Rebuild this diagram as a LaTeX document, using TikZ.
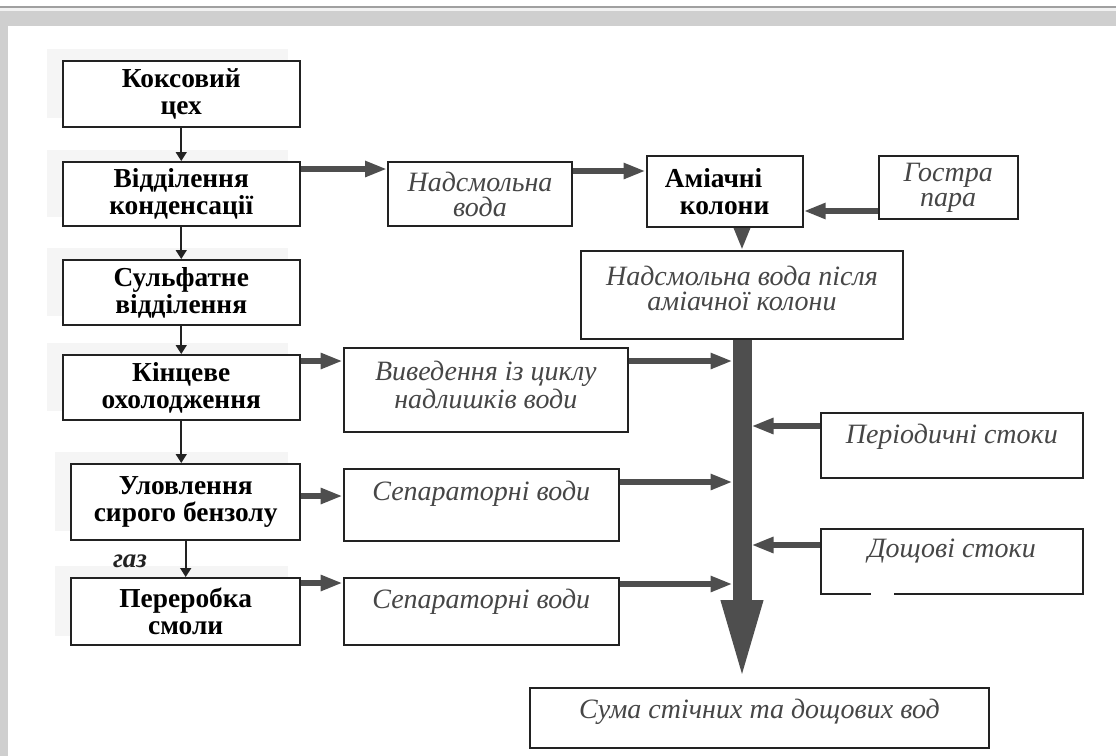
\documentclass[tikz,border=0pt]{standalone}
\usepackage{fontspec}
\setmainfont{Liberation Serif}
\usepackage{tikz}
\usetikzlibrary{arrows.meta,positioning,calc,backgrounds}
\definecolor{frame}{RGB}{207,207,207}
\definecolor{rule}{RGB}{160,160,160}
\definecolor{ink}{RGB}{34,34,34}
\definecolor{pipe}{RGB}{78,78,78}
\definecolor{note}{RGB}{70,70,70}

\tikzset{
  wh/.style 2 args={minimum width=#1*0.5pt, minimum height=#2*0.5pt},
  stage/.style={draw=ink, line width=1pt, fill=white, inner sep=0pt, align=center,
    font=\fontsize{13.7}{13.5}\selectfont\bfseries},
  water/.style={draw=ink, line width=1pt, fill=white, inner sep=0pt, align=center,
    text=note, font=\fontsize{14}{12.5}\selectfont\itshape},
  watertxt/.style={inner sep=0pt, align=center, text=note,
    font=\fontsize{14}{12.5}\selectfont\itshape},
  feed/.style={draw=ink, line width=0.8pt, -{Triangle[length=4.5pt,width=5.5pt]}},
  drain/.style={draw=pipe, line width=3.3pt, -{Triangle[length=11pt,width=7.5pt]}},
  collector/.style={draw=pipe, line width=9.5pt, -{Triangle[length=43.5pt,width=18pt]}},
}

\begin{document}
\begin{tikzpicture}[x=0.5pt,y=-0.5pt]
\useasboundingbox (0,0) rectangle (1116,756);
% frame
\fill[rule] (0,6) rectangle (1116,8);
\fill[gray!10] (0,8) rectangle (1116,11);
\fill[frame] (0,11) rectangle (1116,26);
\fill[frame] (0,26) rectangle (8,756);

% coke plant stages
\foreach \n/\xc/\yc/\ww/\hh/\txt in {
  kox/181.25/93.9/237.5/66.3/{Коксовий\\цех},
  kond/181.25/194/237.5/64/{Відділення\\конденсації},
  sulf/181.25/292.5/237.5/65/{Сульфатне\\відділення},
  okhol/181.25/387.5/237.5/65/{Кінцеве\\охолодження},
  benz/185.7/502/228.6/76/{Уловлення\\сирого бензолу},
  smola/185.7/611.5/228.6/67/{Переробка\\смоли}}{
  \node[stage, wh={\ww}{\hh}] (\n) at (\xc,\yc) {\txt};
}
\begin{scope}[on background layer]
\foreach \n in {kox,kond,sulf,okhol,benz,smola}
  \fill[gray!8] ($(\n.north west)+(-15,-11)$) rectangle ($(\n.south east)+(-13,-10)$);
\end{scope}

\draw[feed] (kox.south) -- (kox.south |- kond.north);
\draw[feed] (kond.south) -- (kond.south |- sulf.north);
\draw[feed] (sulf.south) -- (sulf.south |- okhol.north);
\draw[feed] (okhol.south) -- (okhol.south |- benz.north);
\draw[feed] (benz.south) -- (benz.south |- smola.north);
\node[inner sep=0pt, text=ink, font=\fontsize{13.5}{13.5}\selectfont\bfseries\itshape] (gas) at (130,561) {газ};

% waters
\node[water, wh={184}{64}] (nadv) at (480,194) {Надсмольна\\вода};
\node[water, wh={284.4}{84}] (vyved) at (485.8,390) {};
\node[watertxt, below=7pt of vyved.north] (vyvedt) {Виведення із циклу\\надлишків води};
\node[water, wh={275.4}{72}] (sep1) at (481.3,505) {};
\node[watertxt, below=6.5pt of sep1.north] (sep1t) {Сепараторні води};
\node[water, wh={275.4}{67}] (sep2) at (481.3,611.5) {};
\node[watertxt, below=6pt of sep2.north] (sep2t) {Сепараторні води};

\node[stage, wh={156.2}{71}] (amiak) at (724.6,191.5) {Аміачні\hspace*{11pt}\\колони};
\node[water, wh={138.9}{63}] (pair) at (948.2,187.5) {Гостра\\пара};
\node[water, wh={322}{88}] (nadam) at (742,295) {};
\node[watertxt, below=8pt of nadam.north] (nadamt) {Надсмольна вода після\\аміачної колони};
\node[water, wh={261.6}{65}] (period) at (951.8,445.5) {};
\node[watertxt, below=6pt of period.north] (periodt) {Періодичні стоки};
\node[water, wh={261.6}{65}] (doshch) at (951.8,561.5) {};
\node[watertxt, below=5.5pt of doshch.north] (doshcht) {Дощові стоки};
\fill[white] ($(doshch.south west)+(51,-2)$) rectangle ($(doshch.south west)+(73.5,2)$);
\node[water, wh={459}{60}] (suma) at (759.5,718) {};
\node[watertxt, below=6pt of suma.north] (sumat) {Сума стічних та дощових вод};

% collector pipe
\coordinate (shaftl) at ($(nadam.south)+(-9.5,0)$);
\coordinate (shaftr) at ($(nadam.south)+(9.5,0)$);
\draw[collector] (nadam.south) -- (nadam.south |- suma.north);

\coordinate (a1) at ($(kond.north east)+(0,8)$);
\draw[drain] (a1) -- (a1 -| nadv.west);
\coordinate (a2) at ($(nadv.north east)+(0,10)$);
\draw[drain] (a2) -- (a2 -| amiak.west);
\coordinate (a3) at ($(pair.north west)+(0,56)$);
\draw[drain] (a3) -- (a3 -| amiak.east);
\draw[drain] (nadam.north |- amiak.south) -- (nadam.north);
\coordinate (a4) at ($(okhol.north east)+(0,7)$);
\draw[drain] (a4) -- (a4 -| vyved.west);
\coordinate (a5) at ($(vyved.north east)+(0,14)$);
\draw[drain] (a5) -- (a5 -| shaftl);
\coordinate (a6) at ($(benz.north east)+(0,33)$);
\draw[drain] (a6) -- (a6 -| sep1.west);
\coordinate (a7) at ($(sep1.north east)+(0,14)$);
\draw[drain] (a7) -- (a7 -| shaftl);
\coordinate (a8) at ($(smola.north east)+(0,6)$);
\draw[drain] (a8) -- (a8 -| sep2.west);
\coordinate (a9) at ($(sep2.north east)+(0,7)$);
\draw[drain] (a9) -- (a9 -| shaftl);
\coordinate (a10) at ($(period.north west)+(0,14)$);
\draw[drain] (a10) -- (a10 -| shaftr);
\coordinate (a11) at ($(doshch.north west)+(0,17)$);
\draw[drain] (a11) -- (a11 -| shaftr);
\end{tikzpicture}
\end{document}
